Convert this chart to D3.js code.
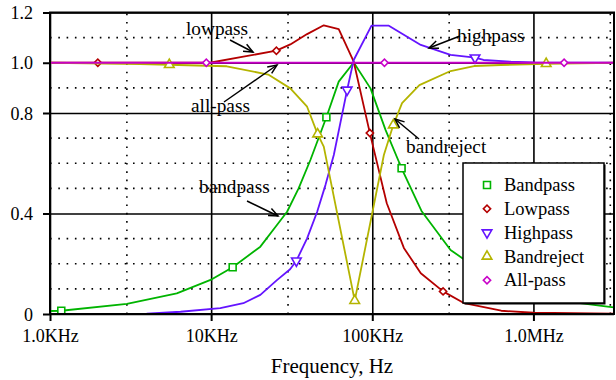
<!DOCTYPE html>
<html>
<head>
<meta charset="utf-8">
<script src="https://cdn.jsdelivr.net/npm/d3@7/dist/d3.min.js"></script>
<style>
  html, body { margin: 0; padding: 0; background: #fff; }
  svg { display: block; font-family: "Liberation Serif", "Times New Roman", serif; }
</style>
</head>
<body>
<svg id="chart" width="616" height="380"></svg>
<script>
// Axis ticks
const freqTicks = [1e3, 1e4, 1e5, 1e6];
const freqTickLabels = ["1.0KHz", "10KHz", "100KHz", "1.0MHz"];
const freqMinorGrid = [3e3, 3e4, 3e5, 3e6];
const gainTicks = [0, 0.4, 0.8, 1.0, 1.2];
const gainTickLabels = ["0", "0.4", "0.8", "1.0", "1.2"];
const gainMinorGrid = [0.1, 0.2, 0.3, 0.5, 0.6, 0.7, 0.9, 1.1];

// Bandpass response
const bandpassFreq = [1000, 1175, 3000, 6120, 10100, 13600, 20200, 25600, 29600, 34900, 41300, 51900, 61900, 76700, 97500, 121000, 152000, 202000, 306000, 389000, 590000, 1000000, 1700000, 2880000, 3162000];
const bandpassGain = [0.012, 0.013, 0.040, 0.082, 0.138, 0.186, 0.268, 0.354, 0.407, 0.500, 0.613, 0.783, 0.925, 1.001, 0.898, 0.732, 0.580, 0.410, 0.255, 0.208, 0.140, 0.085, 0.048, 0.029, 0.026];
const bandpassMarks = [1, 5, 11, 16];

// Lowpass response
const lowpassFreq = [1000, 1980, 10000, 15850, 25400, 31000, 39400, 50000, 61900, 76700, 96600, 123000, 157000, 200000, 275000, 372000, 631000, 1000000, 3162000];
const lowpassGain = [1.000, 1.000, 1.001, 1.024, 1.048, 1.073, 1.114, 1.149, 1.134, 1.004, 0.720, 0.441, 0.263, 0.162, 0.090, 0.043, 0.013, 0.005, 0.001];
const lowpassMarks = [1, 4, 10, 14];

// Highpass response
const highpassFreq = [1000, 3980, 6460, 11400, 15850, 20200, 25600, 30900, 33800, 39400, 45500, 51200, 57700, 69800, 76700, 98900, 126000, 200000, 306000, 434000, 490000, 724000, 1000000, 3162000];
const highpassGain = [0.000, 0.001, 0.009, 0.023, 0.043, 0.076, 0.135, 0.178, 0.212, 0.301, 0.407, 0.513, 0.633, 0.892, 1.011, 1.148, 1.148, 1.071, 1.031, 1.020, 1.011, 1.004, 1.001, 1.000];
const highpassMarks = [8, 13, 19];

// Bandreject response
const bandrejectFreq = [1000, 3630, 5500, 9420, 12500, 22600, 31000, 39400, 45800, 50000, 77800, 118000, 135000, 153000, 196000, 306000, 428000, 627000, 1200000, 3162000];
const bandrejectGain = [1.000, 0.995, 0.992, 0.988, 0.986, 0.953, 0.898, 0.825, 0.716, 0.666, 0.053, 0.633, 0.752, 0.839, 0.911, 0.967, 0.987, 0.991, 0.996, 1.000];
const bandrejectMarks = [2, 8, 10, 12, 18];

// All-pass response
const allpassFreq = [1000, 9330, 119000, 1550000, 3162000];
const allpassGain = [1.0, 1.0, 1.0, 1.0, 1.0];
const allpassMarks = [1, 2, 3];

// Diamonds are drawn as squares turned by 45 degrees
const series = [
  { name: "Bandpass",   freq: bandpassFreq,   gain: bandpassGain,   marks: bandpassMarks,   color: "#00b400", symbol: d3.symbolSquare,   size: 48, rotate: 0 },
  { name: "Lowpass",    freq: lowpassFreq,    gain: lowpassGain,    marks: lowpassMarks,    color: "#b40000", symbol: d3.symbolSquare,   size: 26, rotate: 45 },
  { name: "Highpass",   freq: highpassFreq,   gain: highpassGain,   marks: highpassMarks,   color: "#6414ff", symbol: d3.symbolTriangle, size: 40, rotate: 180 },
  { name: "Bandreject", freq: bandrejectFreq, gain: bandrejectGain, marks: bandrejectMarks, color: "#b4b400", symbol: d3.symbolTriangle, size: 40, rotate: 0 },
  { name: "All-pass",   freq: allpassFreq,    gain: allpassGain,    marks: allpassMarks,    color: "#c800c8", symbol: d3.symbolSquare,   size: 26, rotate: 45 }
];

// Callout labels with arrows (pixel layout)
const callouts = [
  { text: "lowpass",    tx: 186, ty: 35,  x1: 230, y1: 40,  x2: 253, y2: 52 },
  { text: "all-pass",   tx: 191, ty: 112, x1: 224, y1: 102, x2: 277, y2: 65 },
  { text: "highpass",   tx: 457, ty: 42,  x1: 460, y1: 36,  x2: 429, y2: 48 },
  { text: "bandreject", tx: 406, ty: 153, x1: 419, y1: 139, x2: 395, y2: 119 },
  { text: "bandpass",   tx: 199, ty: 193, x1: 247, y1: 201, x2: 278, y2: 216 }
];

const svg = d3.select("#chart");
const plotLeft = 50, plotRight = 614, plotTop = 12.5, plotBottom = 314;

const x = d3.scaleLog().domain([1e3, Math.pow(10, 6.5)]).range([plotLeft, plotRight]);
const y = d3.scaleLinear().domain([0, 1.2]).range([plotBottom, plotTop]);

// Dotted minor grid
const grid = svg.append("g");
grid.selectAll("line.hdot").data(gainMinorGrid).join("line")
  .attr("x1", plotLeft).attr("x2", plotRight)
  .attr("y1", d => y(d)).attr("y2", d => y(d))
  .attr("stroke", "#000").attr("stroke-width", 1.6)
  .attr("stroke-dasharray", "1.6 6.7");
grid.selectAll("line.vdot").data(freqMinorGrid).join("line")
  .attr("x1", d => x(d)).attr("x2", d => x(d))
  .attr("y1", plotBottom).attr("y2", plotTop)
  .attr("stroke", "#000").attr("stroke-width", 1.6)
  .attr("stroke-dasharray", "1.6 6.7");

// Solid major grid via axes
svg.append("g")
  .attr("transform", `translate(${plotLeft},0)`)
  .call(d3.axisLeft(y).tickValues(gainTicks).tickSize(-(plotRight - plotLeft)).tickFormat(""))
  .call(g => g.select(".domain").remove())
  .call(g => g.selectAll("line").attr("stroke", "#000").attr("stroke-width", 1.6));
svg.append("g")
  .attr("transform", `translate(0,${plotBottom})`)
  .call(d3.axisBottom(x).tickValues(freqTicks).tickSize(-(plotBottom - plotTop)).tickFormat(""))
  .call(g => g.select(".domain").remove())
  .call(g => g.selectAll("line").attr("stroke", "#000").attr("stroke-width", 1.6));

// Axis ticks and labels
svg.append("g")
  .attr("transform", `translate(${plotLeft},0)`)
  .call(d3.axisLeft(y).tickValues(gainTicks).tickSize(7).tickPadding(10)
    .tickFormat((d, i) => gainTickLabels[i]))
  .call(g => g.select(".domain").remove())
  .call(g => g.selectAll("line").attr("stroke", "#000").attr("stroke-width", 2))
  .call(g => g.selectAll("text").attr("font-family", "Liberation Serif, serif")
    .attr("font-size", 18).attr("fill", "#000").attr("dy", "0.34em"));
svg.append("g")
  .attr("transform", `translate(0,${plotBottom})`)
  .call(d3.axisBottom(x).tickValues(freqTicks).tickSize(7).tickPadding(8)
    .tickFormat((d, i) => freqTickLabels[i]))
  .call(g => g.select(".domain").remove())
  .call(g => g.selectAll("line").attr("stroke", "#000").attr("stroke-width", 2))
  .call(g => g.selectAll("text").attr("font-family", "Liberation Serif, serif")
    .attr("font-size", 18).attr("fill", "#000"));

svg.append("text")
  .attr("x", (plotLeft + plotRight) / 2).attr("y", 373)
  .attr("text-anchor", "middle").attr("font-size", 21)
  .text("Frequency, Hz");

// Curves and markers
const line = d3.line().x(d => x(d[0])).y(d => y(d[1]));
const plot = svg.append("g");
series.forEach(s => {
  const pts = s.freq.map((f, i) => [f, s.gain[i]]);
  plot.append("path").datum(pts)
    .attr("d", line).attr("fill", "none")
    .attr("stroke", s.color).attr("stroke-width", 1.8)
    .attr("stroke-linejoin", "round");
  plot.selectAll(null).data(s.marks.map(i => pts[i])).join("path")
    .attr("d", d3.symbol(s.symbol, s.size))
    .attr("transform", d => `translate(${x(d[0])},${y(d[1])}) rotate(${s.rotate})`)
    .attr("fill", "#fff").attr("stroke", s.color).attr("stroke-width", 1.6);
});

// Frame
svg.append("rect")
  .attr("x", plotLeft).attr("y", plotTop)
  .attr("width", plotRight - plotLeft).attr("height", plotBottom - plotTop)
  .attr("fill", "none").attr("stroke", "#000").attr("stroke-width", 2);

// Legend
const lg = svg.append("g").attr("transform", "translate(463,163)");
lg.append("rect").attr("x", 1.5).attr("y", 1.5).attr("width", 141).attr("height", 140).attr("fill", "#000");
lg.append("rect").attr("width", 141).attr("height", 140)
  .attr("fill", "#fff").attr("stroke", "#000").attr("stroke-width", 1.5);
series.forEach((s, i) => {
  const cy = 22 + i * 23.8;
  lg.append("path")
    .attr("d", d3.symbol(s.symbol, s.size))
    .attr("transform", `translate(24,${cy}) rotate(${s.rotate})`)
    .attr("fill", "#fff").attr("stroke", s.color).attr("stroke-width", 1.6);
  lg.append("text").attr("x", 41).attr("y", cy).attr("dy", "0.34em")
    .attr("font-size", 18.5).text(s.name);
});

// Callouts
const ann = svg.append("g");
callouts.forEach(c => {
  ann.append("text").attr("x", c.tx).attr("y", c.ty).attr("font-size", 19.3).text(c.text);
  ann.append("line").attr("x1", c.x1).attr("y1", c.y1).attr("x2", c.x2).attr("y2", c.y2)
    .attr("stroke", "#000").attr("stroke-width", 1.5);
  const a = Math.atan2(c.y2 - c.y1, c.x2 - c.x1), len = 10, spread = 0.4;
  const p1 = [c.x2 - len * Math.cos(a - spread), c.y2 - len * Math.sin(a - spread)];
  const p2 = [c.x2 - len * Math.cos(a + spread), c.y2 - len * Math.sin(a + spread)];
  ann.append("path")
    .attr("d", `M${p1[0]},${p1[1]}L${c.x2},${c.y2}L${p2[0]},${p2[1]}`)
    .attr("fill", "none").attr("stroke", "#000").attr("stroke-width", 1.5);
});
</script>
</body>
</html>
